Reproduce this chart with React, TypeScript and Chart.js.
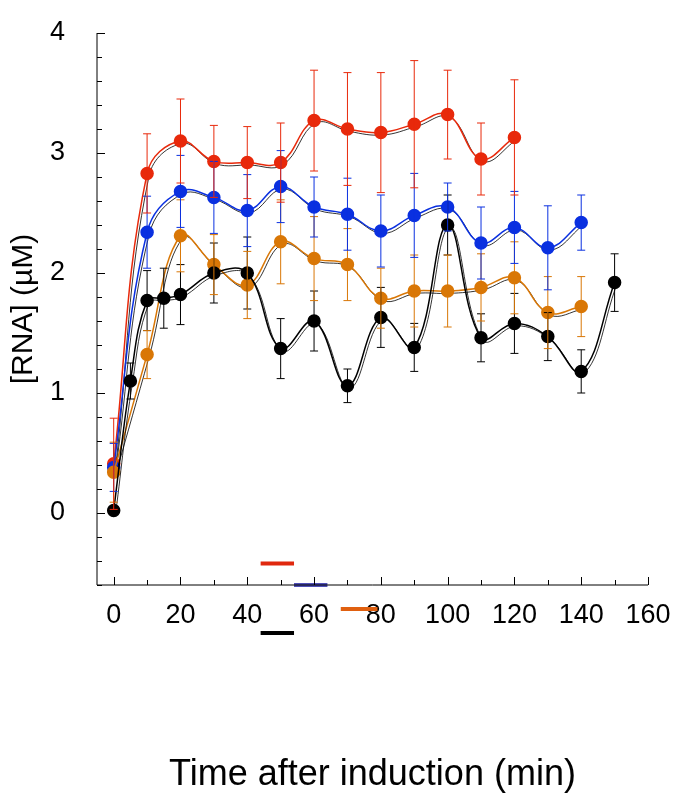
import React, { useRef, useEffect } from 'react';
import Chart from 'chart.js/auto';

// times (min)
const redX = [0, 10, 20, 30, 40, 50, 60, 70, 80, 90, 100, 110, 120];
const redY = [0.41, 2.83, 3.1, 2.93, 2.92, 2.92, 3.27, 3.2, 3.17, 3.24, 3.32, 2.95, 3.13];
const redErr = [0.38, 0.33, 0.35, 0.3, 0.3, 0.33, 0.42, 0.47, 0.5, 0.53, 0.37, 0.3, 0.48];

const blueX = [0, 10, 20, 30, 40, 50, 60, 70, 80, 90, 100, 110, 120, 130, 140];
const blueY = [0.38, 2.34, 2.68, 2.63, 2.52, 2.72, 2.55, 2.49, 2.35, 2.48, 2.55, 2.25, 2.38, 2.21, 2.42];
const blueErr = [0.2, 0.3, 0.3, 0.3, 0.3, 0.3, 0.25, 0.3, 0.3, 0.35, 0.2, 0.3, 0.3, 0.35, 0.23];

const orangeX = [0, 10, 20, 30, 40, 50, 60, 70, 80, 90, 100, 110, 120, 130, 140];
const orangeY = [0.34, 1.32, 2.31, 2.07, 1.9, 2.26, 2.12, 2.07, 1.79, 1.85, 1.85, 1.88, 1.96, 1.67, 1.72];
const orangeErr = [0.25, 0.2, 0.3, 0.25, 0.28, 0.35, 0.35, 0.3, 0.25, 0.3, 0.3, 0.28, 0.3, 0.3, 0.25];

const blackX = [0, 5, 10, 15, 20, 30, 40, 50, 60, 70, 80, 90, 100, 110, 120, 130, 140, 150];
const blackY = [0.02, 1.1, 1.77, 1.79, 1.82, 2.0, 2.0, 1.37, 1.6, 1.06, 1.63, 1.38, 2.4, 1.46, 1.58, 1.47, 1.18, 1.92];
const blackErr = [0.02, 0.15, 0.25, 0.25, 0.25, 0.25, 0.3, 0.25, 0.25, 0.14, 0.25, 0.2, 0.25, 0.2, 0.25, 0.2, 0.18, 0.24];

// marker bars below the axis: [xStart, xEnd, y, colour]
const markerStart = [44, 44, 54, 68];
const markerEnd = [54, 54, 64, 79];
const markerY = [-0.42, -1.0, -0.6, -0.8];
const markerColor = ['#e0280e', '#000000', '#5050b8', '#e06010'];

const RED = '#e8290b';
const BLUE = '#0a30e0';
const ORANGE = '#d97706';
const BLACK = '#000000';

const pts = (xs: number[], ys: number[], es: number[]) =>
  xs.map((x, i) => ({ x, y: ys[i], e: es[i] }));

const errorBars = {
  id: 'errorBars',
  afterDatasetsDraw(chart: any) {
    const { ctx } = chart;
    chart.data.datasets.forEach((ds: any, di: number) => {
      if (!ds.errColor) return;
      const meta = chart.getDatasetMeta(di);
      ctx.save();
      ctx.strokeStyle = ds.errColor;
      ctx.lineWidth = 1;
      meta.data.forEach((el: any, i: number) => {
        const p = ds.data[i];
        const x = el.x;
        const y1 = chart.scales.y.getPixelForValue(p.y - p.e);
        const y2 = chart.scales.y.getPixelForValue(p.y + p.e);
        ctx.beginPath();
        ctx.moveTo(x, y1); ctx.lineTo(x, y2);
        ctx.moveTo(x - 4, y1); ctx.lineTo(x + 4, y1);
        ctx.moveTo(x - 4, y2); ctx.lineTo(x + 4, y2);
        ctx.stroke();
      });
      ctx.restore();
    });
  },
};

const extras = {
  id: 'extras',
  afterDraw(chart: any) {
    const { ctx, scales } = chart;
    const { x, y } = scales;
    ctx.save();
    // markers
    ctx.lineWidth = 4;
    markerStart.forEach((s, i) => {
      ctx.strokeStyle = markerColor[i];
      ctx.beginPath();
      ctx.moveTo(x.getPixelForValue(s), y.getPixelForValue(markerY[i]));
      ctx.lineTo(x.getPixelForValue(markerEnd[i]), y.getPixelForValue(markerY[i]));
      ctx.stroke();
    });
    // axes and inward minor ticks
    ctx.strokeStyle = '#000';
    ctx.lineWidth = 1;
    const left = x.left, bottom = y.bottom;
    ctx.beginPath();
    ctx.moveTo(left, y.top); ctx.lineTo(left, bottom); ctx.lineTo(x.right, bottom);
    for (let v = -0.6; v <= 4.001; v += 0.2) {
      const py = Math.round(y.getPixelForValue(v)) + 0.5;
      const major = Math.abs(v - Math.round(v)) < 0.01;
      ctx.moveTo(left, py); ctx.lineTo(left + (major ? 8 : 5), py);
    }
    for (let v = 0; v <= 160; v += 10) {
      const px = Math.round(x.getPixelForValue(v)) + 0.5;
      ctx.moveTo(px, bottom); ctx.lineTo(px, bottom - (v % 20 === 0 ? 8 : 5));
    }
    ctx.stroke();
    ctx.restore();
  },
};

const series = (xs: number[], ys: number[], es: number[], color: string) => [
  {
    data: pts(xs, ys, es),
    borderColor: color,
    backgroundColor: color,
    errColor: color,
    borderWidth: 1.5,
    pointRadius: 6,
    pointHoverRadius: 6,
    tension: 0.4,
  },
  {
    data: pts(xs.map((v) => v + 0.6), ys.map((v) => v - 0.02), es),
    borderColor: 'rgba(0,0,0,0.8)',
    borderWidth: 1,
    pointRadius: 0,
    tension: 0.4,
  },
];

const App = () => {
  const chartRef = useRef<HTMLCanvasElement>(null);

  useEffect(() => {
    if (!chartRef.current) return;
    const chart = new Chart(chartRef.current, {
      type: 'line',
      data: {
        datasets: [
          ...series(blackX, blackY, blackErr, BLACK),
          ...series(orangeX, orangeY, orangeErr, ORANGE),
          ...series(blueX, blueY, blueErr, BLUE),
          ...series(redX, redY, redErr, RED),
        ] as any,
      },
      options: {
        animation: false,
        responsive: true,
        maintainAspectRatio: false,
        layout: { padding: { top: 33, right: 31, left: 0, bottom: 0 } },
        plugins: { legend: { display: false }, tooltip: { enabled: false } },
        scales: {
          x: {
            type: 'linear',
            min: -5,
            max: 160,
            afterFit: (s: any) => { s.height = 214; s.paddingLeft = 0; s.paddingRight = 0; },
            border: { display: false },
            grid: { display: false },
            ticks: {
              padding: 6,
              color: '#000',
              font: { family: 'Liberation Sans', size: 27 },
            },
            afterBuildTicks: (s: any) => {
              s.ticks = [0, 20, 40, 60, 80, 100, 120, 140, 160].map((value) => ({ value }));
            },
            title: {
              display: true,
              text: 'Time after induction (min)',
              color: '#000',
              font: { family: 'Liberation Sans', size: 36 },
              padding: { bottom: 2 },
            },
          },
          y: {
            min: -0.6,
            max: 4,
            afterFit: (s: any) => { s.width = 97; s.paddingTop = 0; s.paddingBottom = 0; },
            border: { display: false },
            grid: { display: false },
            afterBuildTicks: (s: any) => {
              s.ticks = [0, 1, 2, 3, 4].map((value) => ({ value }));
            },
            ticks: {
              padding: 24,
              color: '#000',
              font: { family: 'Liberation Sans', size: 27 },
            },
            title: {
              display: true,
              text: '[RNA] (\u00b5M)',
              color: '#000',
              font: { family: 'Liberation Sans', size: 30 },
              padding: { top: 6, bottom: 0 },
            },
          },
        },
      },
      plugins: [errorBars, extras],
    });
    return () => chart.destroy();
  }, []);

  return (
    <div style={{ position: 'absolute', left: 0, top: 0, width: 679, height: 799, background: '#fff' }}>
      <canvas ref={chartRef}></canvas>
    </div>
  );
};

export default App;
